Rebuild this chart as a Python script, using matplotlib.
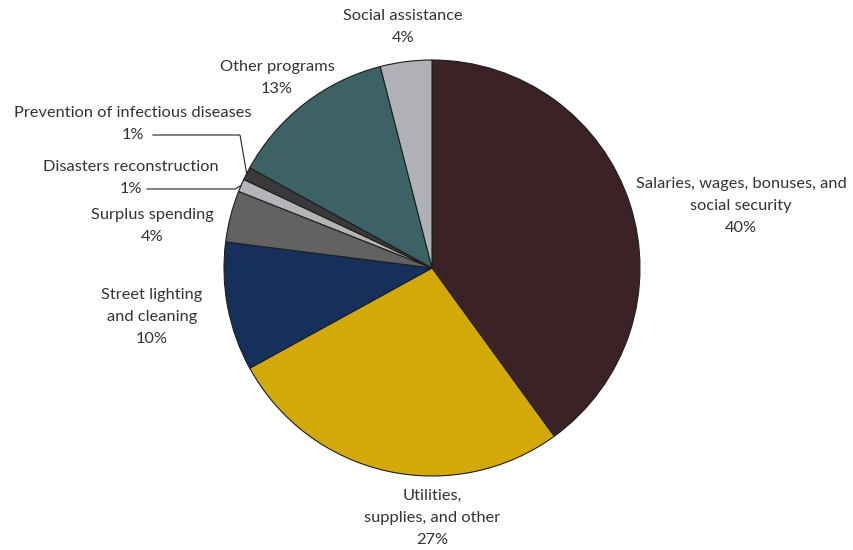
import numpy as np
import matplotlib
matplotlib.use("Agg")
from matplotlib import pyplot as plt

categories = ["Salaries, wages, bonuses, and\nsocial security",
              "Utilities,\nsupplies, and other",
              "Street lighting\nand cleaning",
              "Surplus spending",
              "Disasters reconstruction",
              "Prevention of infectious diseases",
              "Other programs",
              "Social assistance"]
shares = [40, 27, 10, 4, 1, 1, 13, 4]
colors = ["#3a2226", "#d3a809", "#15305a", "#626262", "#b3b4b8",
          "#3a3a3c", "#3c6266", "#b0b1b5"]

# label anchor (x, y of first line) in figure pixels, y from top
label_pos = [(741, 184), (432, 496), (152, 295), (152, 215),
             (131, 167), (133, 113), (277, 67), (403, 16)]

W, H = 854, 550
CX, CY, R = 432, 268, 208
LINE = 22

plt.rcParams['font.family'] = ['Lato', 'DejaVu Sans']

fig = plt.figure(figsize=(W / 100, H / 100), dpi=100)
ax = fig.add_axes([0, 0, 1, 1])

wedges, _ = ax.pie(shares, colors=colors, startangle=90, counterclock=False,
                   center=(CX, H - CY), radius=R, frame=True,
                   wedgeprops=dict(edgecolor="#1e1e1e", linewidth=0.8))
ax.set_xlim(0, W)
ax.set_ylim(0, H)
ax.set_axis_off()

text_color = "#333333"
for name, val, (x, y) in zip(categories, shares, label_pos):
    lines = name.split("\n") + [f"{val}%"]
    for i, s in enumerate(lines):
        ax.text(x, H - (y + i * LINE), s, ha="center", va="center",
                fontsize=11.8, color=text_color)

# leader lines for the two thin slices
for idx, x0 in [(5, 153), (4, 147)]:
    w = wedges[idx]
    mid = np.deg2rad((w.theta1 + w.theta2) / 2)
    ex = CX + R * np.cos(mid)
    ey = H - CY + R * np.sin(mid)
    ly = H - (label_pos[idx][1] + LINE)
    bx = min(ex - 6, 240)
    ax.plot([x0, bx, ex], [ly, ly, ey], color="#222222", lw=0.8,
            solid_joinstyle="miter")

fig.savefig("out.png", dpi=100)
